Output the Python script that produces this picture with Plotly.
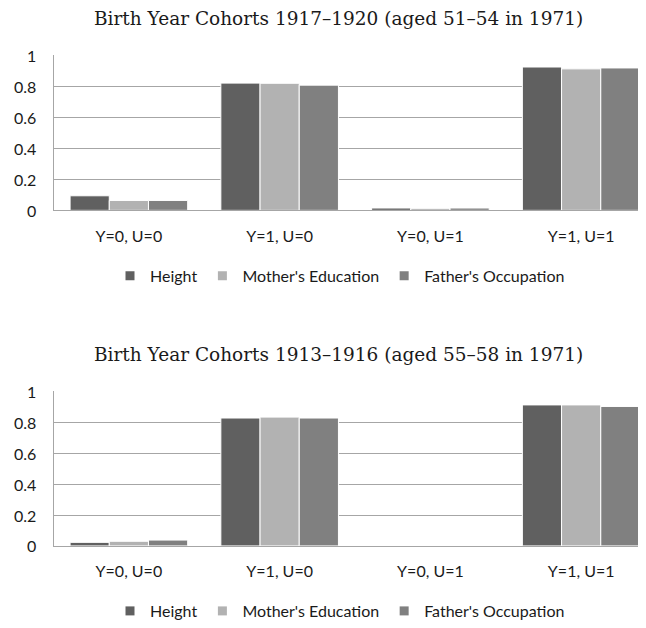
import plotly.graph_objects as go

categories = ["Y=0, U=0", "Y=1, U=0", "Y=0, U=1", "Y=1, U=1"]
series_names = ["Height", "Mother's Education", "Father's Occupation"]
colors = ["#606060", "#b2b2b2", "#808080"]

# Panel 1: Birth Year Cohorts 1917-1920
p1_height = [0.094, 0.821, 0.015, 0.925]
p1_mother = [0.064, 0.820, 0.013, 0.913]
p1_father = [0.064, 0.808, 0.015, 0.919]

# Panel 2: Birth Year Cohorts 1913-1916
p2_height = [0.023, 0.829, 0.0, 0.914]
p2_mother = [0.030, 0.835, 0.0, 0.914]
p2_father = [0.038, 0.829, 0.0, 0.904]

titles = ["Birth Year Cohorts 1917–1920 (aged 51–54 in 1971)",
          "Birth Year Cohorts 1913–1916 (aged 55–58 in 1971)"]
y_ticks = [0, 0.2, 0.4, 0.6, 0.8, 1]
y_ticklabels = ["0", "0.2", "0.4", "0.6", "0.8", "1"]

# page body has an 8px margin: size the figure so it ends at the window edge
OFF = 8
W, H = 646 - OFF, 628 - OFF


def px(x):
    return (x - OFF) / W


def py(y):
    return 1 - (y - OFF) / H


fig = go.Figure()

panels = [
    ([p1_height, p1_mother, p1_father], "x", "y", "legend"),
    ([p2_height, p2_mother, p2_father], "x2", "y2", "legend2"),
]
for vals, xa, ya, lg in panels:
    for name, v, c in zip(series_names, vals, colors):
        fig.add_trace(go.Bar(
            x=categories, y=v, name=name, xaxis=xa, yaxis=ya,
            marker=dict(color=c, line=dict(color="white", width=1)),
            showlegend=False,
        ))
        # legend entry with a small square symbol
        fig.add_trace(go.Scatter(
            x=[None], y=[None], mode="markers", name=name, xaxis=xa, yaxis=ya,
            marker=dict(symbol="square", size=9, color=c), legend=lg,
        ))

x_dom = [px(53.5), 1.0]
ydom1 = [py(212), py(55.3)]
ydom2 = [py(550.3), py(394.3)]

tickfont = dict(family="Lato", size=16, color="#1a1a1a")
legfont = dict(family="Lato", size=16, color="#1a1a1a")
titlefont = dict(family="DejaVu Serif", size=18.5, color="#1a1a1a")

xcommon = dict(
    domain=x_dom, range=[-0.5, 3.43], showline=True, linecolor="#a6a6a6",
    linewidth=1, ticks="", showgrid=False, tickfont=tickfont,
    ticklabelstandoff=11, automargin=False, fixedrange=True,
)
ycommon = dict(
    range=[0, 1.003], tickvals=y_ticks, showticklabels=False,
    showgrid=True, gridcolor="#a6a6a6", gridwidth=1, zeroline=False,
    showline=True, linecolor="#a6a6a6", linewidth=1,
    automargin=False, fixedrange=True,
)

annotations = []
for t, yc in zip(titles, [19, 357]):
    annotations.append(dict(
        text=t, x=px(338), y=py(yc), xref="paper", yref="paper",
        xanchor="center", yanchor="middle", showarrow=False, font=titlefont))
# y tick labels, placed at the axis values
for yref in ["y", "y2"]:
    for v, lab in zip(y_ticks, y_ticklabels):
        annotations.append(dict(
            text=lab, x=px(38), y=v, xref="paper", yref=yref,
            xanchor="right", yanchor="middle", showarrow=False, font=tickfont))

fig.update_layout(
    width=W, height=H,
    margin=dict(l=0, r=0, t=0, b=0),
    paper_bgcolor="white", plot_bgcolor="white",
    template="none",
    barmode="group", bargap=0.22, bargroupgap=0.0,
    xaxis=dict(**xcommon, anchor="y"),
    yaxis=dict(**ycommon, domain=ydom1, anchor="x"),
    xaxis2=dict(**xcommon, anchor="y2"),
    yaxis2=dict(**ycommon, domain=ydom2, anchor="x2"),
    legend=dict(orientation="h", x=px(340), xanchor="center",
                y=py(278), yanchor="middle", font=legfont,
                itemwidth=30, bgcolor="rgba(0,0,0,0)"),
    legend2=dict(orientation="h", x=px(340), xanchor="center",
                 y=py(616), yanchor="middle", font=legfont,
                 itemwidth=30, bgcolor="rgba(0,0,0,0)"),
    showlegend=True,
    annotations=annotations,
)

fig.write_html("out.html")
